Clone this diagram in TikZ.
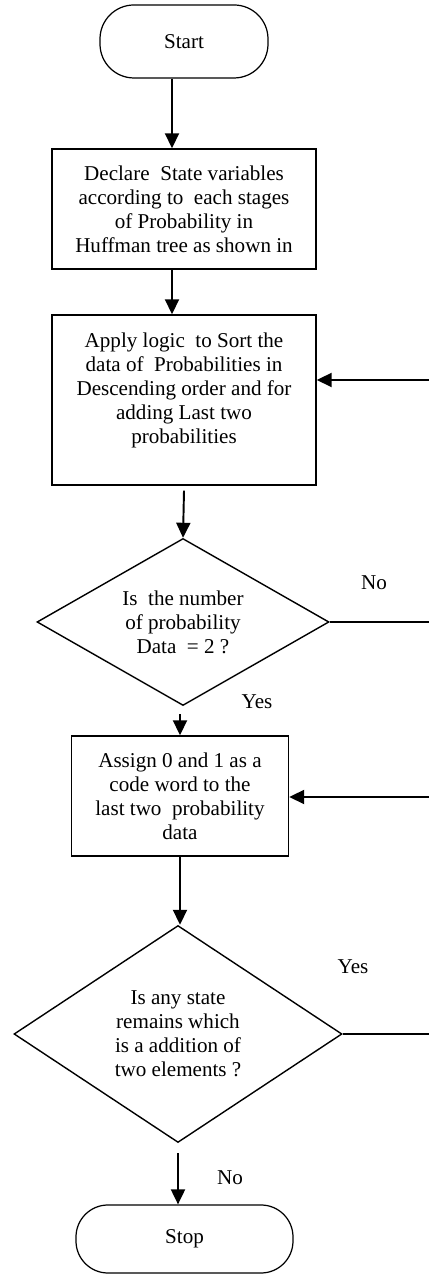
\documentclass[tikz,border=0pt]{standalone}
\usepackage{fontspec}
\setmainfont{Liberation Serif}
\usetikzlibrary{positioning}
\usetikzlibrary{shapes.geometric, arrows.meta}

\tikzset{
  txt/.style={font=\fontsize{12}{13.7}\selectfont, align=center},
  term/.style={txt, draw=black, line width=0.7pt, rounded corners=0.68cm, minimum width=3.36cm, minimum height=1.46cm},
  procbox/.style={txt, draw=black, line width=0.8pt, minimum height=2.4cm},
  decide/.style={txt, draw=black, line width=0.8pt, diamond, inner sep=0pt},
  flow/.style={line width=1.1pt, -{Triangle[length=0.3cm,width=0.28cm]}},
}

\begin{document}
\begin{tikzpicture}
\useasboundingbox (0,0) rectangle (8.58,25.52);

\node[term] (start) at (3.68,24.69) {Start};
\node[procbox, minimum width=5.28cm] (declare) at (3.68,21.34) {Declare \ State variables\\according to \ each stages\\of Probability in\\Huffman tree as shown in};
\node[procbox, minimum width=5.28cm, minimum height=3.4cm] (sort) at (3.68,17.52) {Apply logic \ to Sort the\\data of \ Probabilities in\\Descending order and for\\adding Last two\\probabilities\\ \mbox{}};
\node[decide, minimum width=5.84cm, minimum height=3.34cm, aspect=1.75] (check) at (3.66,13.08) {Is \ the number\\of probability\\Data \ = 2 ?};
\node[procbox, minimum width=4.34cm] (assign) at (3.6,9.6) {Assign 0 and 1 as a\\code word to the\\last two \ probability\\data};
\node[decide, minimum width=6.56cm, minimum height=4.34cm, aspect=1.51] (remain) at (3.56,4.84) {Is any state\\remains which\\is a addition of\\two elements ?};
\node[term, minimum width=4.34cm, minimum height=1.36cm, rounded corners=0.64cm] (stop) at (3.69,0.74) {Stop};

% loose ends at the right border
\coordinate (backa) at (8.58,17.92);
\coordinate (backb) at (8.58,9.58);
\coordinate (outa) at (8.58,13.08);
\coordinate (outb) at (8.58,4.84);

\draw[flow] ([xshift=-0.24cm]start.south) -- ([xshift=-0.24cm]declare.north);
\draw[flow] ([xshift=-0.24cm]declare.south) -- ([xshift=-0.24cm]sort.north);
\draw[flow] ([yshift=-0.1cm]sort.south) -- (check.north);
\draw[flow] ([xshift=-0.06cm,yshift=-0.16cm]check.south) -- (assign.north);
\draw[flow] (assign.south) -- (assign.south |- remain.north);
\draw[flow] ([yshift=-0.2cm]remain.south) -- ([xshift=-0.13cm]stop.north);

\draw[line width=0.8pt] (check.east) -- (outa);
\draw[line width=0.8pt] (remain.east) -- (outb);
\draw[flow] (backa) -- (backa -| sort.east);
\draw[flow] (backb) -- (backb -| assign.east);

\node[txt] (noa) at (7.48,13.86) {No};
\node[txt] (yesa) at (5.14,11.48) {Yes};
\node[txt] (yesb) at (7.06,6.18) {Yes};
\node[txt] (nob) at (4.6,1.96) {No};

\end{tikzpicture}
\end{document}
